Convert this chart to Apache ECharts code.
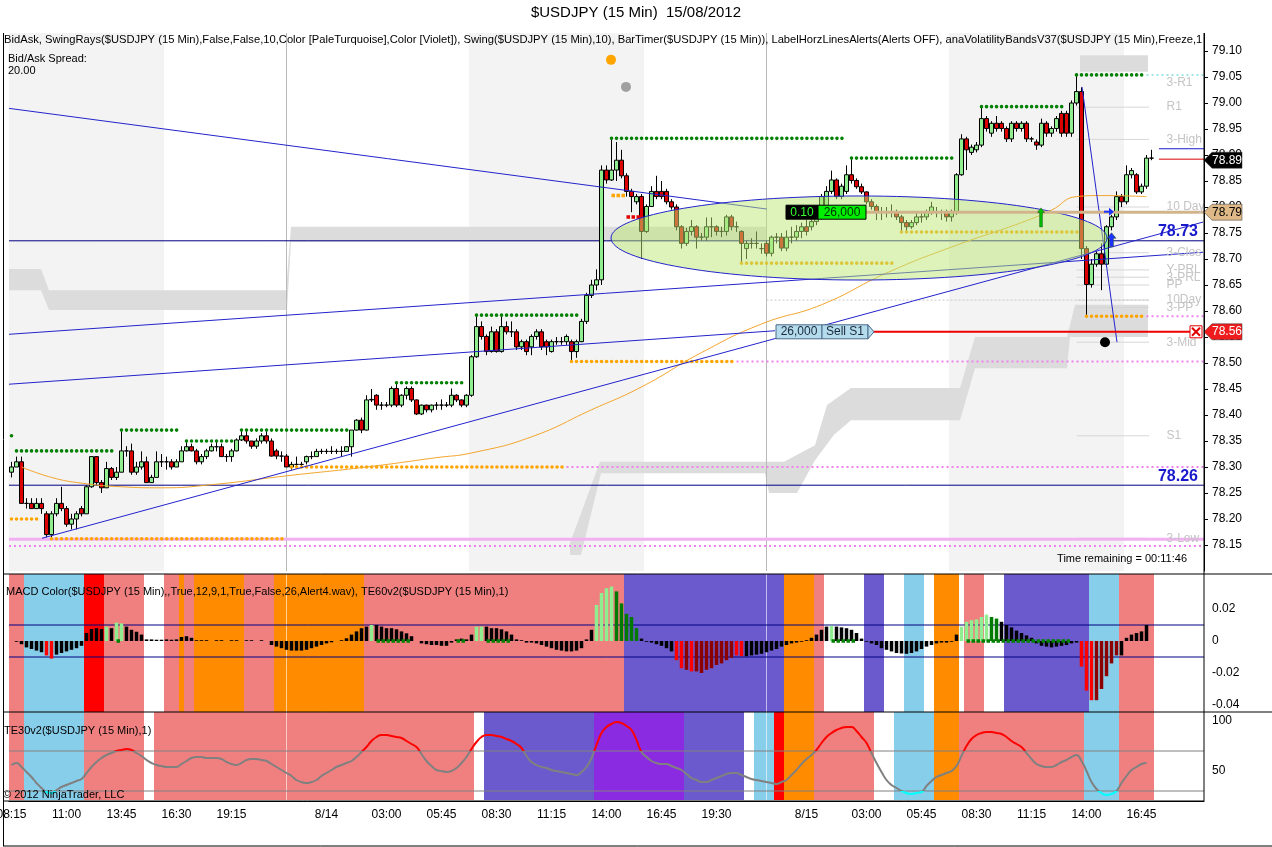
<!DOCTYPE html>
<html>
<head>
<meta charset="utf-8">
<title>$USDJPY (15 Min) 15/08/2012</title>
<script src="https://cdn.jsdelivr.net/npm/echarts@6/dist/echarts.min.js"></script>
<style>
  html, body { margin: 0; padding: 0; background: #fff; }
  #main { width: 1272px; height: 847px; }
</style>
</head>
<body>
<div id="main"></div>
<script>
var FONT = '"Liberation Sans", Arial, sans-serif';
var SLOTS = 239;   // bar slots incl. empty space right of the last bar

// x-axis labels: [bar index, text]
var timeTicks = [[0,'08:15'],[11,'11:00'],[22,'13:45'],[33,'16:30'],[44,'19:15'],[63,'8/14'],[75,'03:00'],
  [86,'05:45'],[97,'08:30'],[108,'11:15'],[119,'14:00'],[130,'16:45'],[141,'19:30'],[159,'8/15'],
  [171,'03:00'],[182,'05:45'],[193,'08:30'],[204,'11:15'],[215,'14:00'],[226,'16:45']];
var dayBreaks = [55, 151];
var macdTicks = [0.02, 0, -0.02, -0.04];
var teTicks = [100, 50];

// 15 min bars, [open, close, low, high]
var candles = [
 [78.29,78.30,78.28,78.31],[78.30,78.31,78.30,78.32],[78.31,78.23,78.23,78.32],[78.23,78.23,78.22,78.24],
 [78.23,78.22,78.22,78.24],[78.22,78.23,78.22,78.24],[78.23,78.22,78.21,78.24],[78.21,78.17,78.165,78.215],
 [78.17,78.21,78.163,78.215],[78.21,78.23,78.205,78.24],
 [78.23,78.22,78.215,78.262],[78.22,78.19,78.185,78.225],[78.19,78.20,78.18,78.21],[78.20,78.21,78.18,78.215],
 [78.22,78.21,78.205,78.225],
 [78.21,78.262,78.21,78.265],[78.262,78.32,78.26,78.32],[78.32,78.27,78.265,78.32],[78.27,78.26,78.25,78.275],
 [78.26,78.297,78.26,78.31],
 [78.297,78.28,78.275,78.30],[78.28,78.29,78.275,78.30],[78.29,78.331,78.29,78.371],[78.331,78.331,78.32,78.34],
 [78.331,78.29,78.285,78.345],[78.29,78.30,78.285,78.31],[78.30,78.31,78.295,78.33],[78.31,78.27,78.27,78.32],
 [78.27,78.28,78.27,78.285],[78.28,78.31,78.28,78.33],
 [78.31,78.31,78.30,78.325],[78.31,78.31,78.295,78.32],[78.31,78.30,78.295,78.315],[78.30,78.31,78.30,78.315],
 [78.31,78.331,78.31,78.34],[78.331,78.339,78.33,78.35],[78.339,78.331,78.33,78.345],[78.331,78.31,78.305,78.335],
 [78.31,78.32,78.305,78.325],[78.32,78.331,78.315,78.335],
 [78.331,78.339,78.33,78.345],[78.339,78.339,78.33,78.35],[78.339,78.32,78.32,78.345],[78.32,78.32,78.31,78.325],
 [78.32,78.331,78.31,78.335],[78.331,78.352,78.33,78.355],[78.352,78.36,78.35,78.371],[78.36,78.35,78.345,78.37],
 [78.35,78.34,78.335,78.35],[78.34,78.35,78.335,78.355],
 [78.35,78.36,78.345,78.365],[78.36,78.35,78.345,78.371],[78.35,78.321,78.32,78.355],[78.331,78.321,78.315,78.335],
 [78.321,78.321,78.31,78.33],[78.321,78.30,78.30,78.325],[78.30,78.305,78.295,78.31],[78.305,78.305,78.30,78.32],
 [78.305,78.305,78.30,78.31],[78.31,78.32,78.305,78.322],
 [78.32,78.32,78.315,78.33],[78.32,78.33,78.32,78.335],[78.33,78.33,78.325,78.335],[78.33,78.33,78.325,78.335],
 [78.33,78.33,78.325,78.34],[78.33,78.33,78.325,78.335],[78.33,78.33,78.32,78.34],[78.33,78.339,78.33,78.34],
 [78.339,78.371,78.32,78.371],[78.371,78.39,78.37,78.392],
 [78.39,78.371,78.365,78.395],[78.371,78.429,78.37,78.438],[78.429,78.43,78.425,78.45],[78.438,78.419,78.41,78.44],
 [78.419,78.419,78.41,78.425],[78.419,78.419,78.415,78.425],[78.419,78.451,78.415,78.455],[78.451,78.419,78.415,78.462],
 [78.419,78.438,78.415,78.44],[78.438,78.451,78.43,78.455],
 [78.451,78.429,78.425,78.455],[78.429,78.402,78.40,78.43],[78.402,78.419,78.40,78.42],[78.419,78.41,78.405,78.42],
 [78.41,78.419,78.405,78.42],[78.419,78.419,78.41,78.425],[78.419,78.419,78.41,78.43],[78.419,78.419,78.415,78.425],
 [78.419,78.438,78.415,78.451],[78.438,78.429,78.425,78.44],
 [78.429,78.419,78.415,78.43],[78.419,78.438,78.415,78.44],[78.438,78.512,78.435,78.515],[78.512,78.57,78.51,78.592],
 [78.57,78.551,78.545,78.58],[78.551,78.522,78.515,78.555],[78.522,78.56,78.52,78.57],[78.56,78.522,78.52,78.565],
 [78.522,78.57,78.52,78.592],[78.57,78.56,78.555,78.58],
 [78.56,78.56,78.55,78.58],[78.56,78.531,78.525,78.565],[78.531,78.541,78.525,78.545],[78.541,78.522,78.515,78.545],
 [78.531,78.551,78.515,78.555],[78.551,78.56,78.545,78.565],[78.56,78.531,78.525,78.565],[78.541,78.531,78.515,78.545],
 [78.522,78.541,78.52,78.545],[78.541,78.541,78.535,78.55],
 [78.541,78.541,78.535,78.55],[78.541,78.551,78.535,78.555],[78.541,78.522,78.503,78.545],[78.522,78.541,78.51,78.545],
 [78.541,78.58,78.54,78.585],[78.58,78.63,78.575,78.635],[78.63,78.65,78.625,78.66],[78.65,78.66,78.64,78.68],
 [78.66,78.871,78.65,78.88],[78.871,78.852,78.845,78.88],
 [78.852,78.871,78.85,78.932],[78.871,78.89,78.85,78.925],[78.89,78.86,78.855,78.91],[78.86,78.83,78.82,78.865],
 [78.83,78.82,78.79,78.835],[78.81,78.82,78.805,78.825],[78.82,78.753,78.70,78.825],[78.753,78.801,78.75,78.805],
 [78.801,78.83,78.80,78.84],[78.83,78.82,78.815,78.86],
 [78.83,78.82,78.815,78.85],[78.83,78.81,78.805,78.835],[78.81,78.80,78.795,78.815],[78.80,78.762,78.755,78.805],
 [78.762,78.73,78.72,78.765],[78.73,78.753,78.725,78.76],[78.753,78.762,78.745,78.775],[78.762,78.742,78.72,78.765],
 [78.742,78.742,78.735,78.75],[78.742,78.762,78.735,78.78],
 [78.762,78.762,78.742,78.78],[78.762,78.753,78.745,78.765],[78.753,78.753,78.742,78.762],[78.753,78.781,78.745,78.785],
 [78.781,78.762,78.755,78.785],[78.762,78.762,78.752,78.772],[78.753,78.73,78.692,78.755],[78.72,78.73,78.70,78.735],
 [78.73,78.73,78.72,78.74],[78.73,78.73,78.72,78.753],
 [78.72,78.72,78.71,78.73],[78.73,78.711,78.705,78.735],[78.711,78.742,78.705,78.745],[78.742,78.742,78.73,78.75],
 [78.742,78.721,78.715,78.75],[78.721,78.742,78.715,78.755],[78.742,78.742,78.73,78.762],[78.742,78.753,78.735,78.765],
 [78.753,78.762,78.74,78.77],[78.762,78.753,78.745,78.775],
 [78.762,78.772,78.755,78.78],[78.772,78.781,78.765,78.79],[78.781,78.82,78.775,78.825],[78.80,78.83,78.80,78.84],
 [78.83,78.852,78.825,78.87],[78.852,78.82,78.815,78.855],[78.82,78.84,78.815,78.845],[78.83,78.862,78.825,78.88],
 [78.862,78.851,78.845,78.894],[78.851,78.839,78.835,78.855],
 [78.839,78.829,78.825,78.845],[78.829,78.81,78.805,78.83],[78.81,78.801,78.795,78.815],[78.801,78.791,78.775,78.805],
 [78.791,78.791,78.775,78.80],[78.791,78.791,78.78,78.80],[78.791,78.791,78.78,78.805],[78.791,78.781,78.775,78.795],
 [78.781,78.77,78.752,78.785],[78.77,78.762,78.752,78.775],
 [78.762,78.77,78.758,78.775],[78.77,78.781,78.765,78.79],[78.781,78.781,78.77,78.79],[78.781,78.791,78.775,78.795],
 [78.791,78.80,78.785,78.81],[78.791,78.791,78.78,78.80],[78.791,78.791,78.775,78.795],[78.791,78.781,78.772,78.795],
 [78.781,78.791,78.772,78.795],[78.791,78.862,78.785,78.865],
 [78.862,78.931,78.86,78.94],[78.931,78.91,78.871,78.935],[78.905,78.915,78.90,78.92],[78.91,78.919,78.905,78.925],
 [78.919,78.97,78.915,78.993],[78.97,78.951,78.945,78.975],[78.942,78.961,78.935,78.965],[78.961,78.951,78.945,78.975],
 [78.961,78.951,78.945,78.965],[78.951,78.931,78.925,78.955],
 [78.931,78.961,78.925,78.965],[78.961,78.951,78.945,78.965],[78.951,78.961,78.945,78.965],[78.961,78.931,78.925,78.965],
 [78.931,78.931,78.925,78.935],[78.925,78.919,78.91,78.93],[78.919,78.961,78.915,78.97],[78.961,78.942,78.935,78.965],
 [78.942,78.951,78.935,78.955],[78.951,78.97,78.945,78.975],
 [78.98,78.942,78.935,78.985],[78.98,78.942,78.935,78.985],[78.942,79.00,78.935,79.005],[79.00,79.022,78.995,79.054],
 [79.022,78.72,78.70,79.03],[78.72,78.651,78.59,78.725],[78.651,78.69,78.645,78.70],[78.69,78.71,78.685,78.715],
 [78.71,78.69,78.64,78.73],[78.69,78.762,78.685,78.765],
 [78.762,78.781,78.755,78.785],[78.781,78.82,78.775,78.83],[78.82,78.81,78.80,78.825],[78.81,78.862,78.805,78.88],
 [78.862,78.87,78.855,78.875],[78.862,78.829,78.825,78.865],[78.829,78.84,78.825,78.845],[78.84,78.894,78.835,78.90],
 [78.894,78.894,78.89,78.91]
];

// moving average, read at a few bars (line joins them)
var maPoints = [[2,78.30],[8,78.28],[14,78.269],[22,78.262],[30,78.26],[40,78.266],[55,78.283],[71,78.30],
  [85,78.318],[92,78.327],[104,78.358],[116,78.41],[126,78.454],[138,78.52],[150,78.575],[162,78.612],
  [175,78.673],[188,78.723],[202,78.77],[208,78.794],[213,78.82],[218,78.822],[227,78.82]];

// swing dots: [first bar, last bar, price]
var swingHighs = [[0,0,78.36],[1,21,78.331],[22,34,78.371],[35,45,78.35],[46,68,78.371],[77,91,78.462],
  [93,114,78.592],[120,167,78.932],[168,189,78.894],[194,211,78.993],[213,227,79.054]];
var swingLows = [[0,6,78.20],[8,55,78.162],[56,111,78.30],[112,145,78.503],[146,177,78.692],[178,214,78.752],[215,227,78.59]];
var orangeMarks = [[120,123,78.822]];
var redMarks = [[123,126,78.781]];
var violetRays = [[111,238.5,78.30],[145,238.5,78.503],[227,238.5,78.59],[-0.5,238.5,78.148]];
var violetSolid = [[-0.5,238.5,78.161]];
var turquoiseRays = [[227,238.5,79.054]];

// drawn objects in [bar, price]
var trendLines = [
  [-2.3,78.992,151.1,78.796],
  [-2.3,78.554,238.3,78.713],
  [-2.3,78.458,152.7,78.562],
  [6.1,78.163,238.3,78.771],
  [214.1,79.031,221.1,78.54]
];
var levelLines = [[78.735,'78.73'],[78.265,'78.26']];
var tanLine = [[170.9,238.5,78.79]];
var sellLine = [[171.3,235.7,78.56]];
var bidLine = [[229.5,238.5,78.912]];
var askLine = [[229.5,238.5,78.892]];
var ellipseZone = {bar: 169.5, price: 78.7404, barRadius: 49.6, priceRadius: 0.0808};

var pivots = [['3-R1',79.04],['R1',78.992],['3-High',78.93],['10 Day',78.80],['3-Clos',78.712],['Y-PRL',78.679],
  ['3-PRL',78.665],['PP',78.65],['10Day',78.621],['3-PP',78.607],['3-Mid',78.54],['S1',78.36],['3-Low',78.163]];
var pivotLongLines = [[151,227.5,78.621]];

// volatility band outlines [bar, price]
var bands = [
  [[-0.5,78.681],[5.9,78.681],[7.5,78.64],[54.9,78.64],[55.9,78.762],[151.1,78.762],[151.1,78.733],[55.9,78.733],
   [55.1,78.602],[7.5,78.602],[5.9,78.64],[-0.5,78.64]],
  [[213.7,79.092],[227.3,79.092],[227.3,79.06],[213.7,79.06]],
  [[111.7,78.154],[117.7,78.31],[154.5,78.31],[160.7,78.342],[163.1,78.419],[167.9,78.452],[189.7,78.452],
   [192.7,78.55],[211.1,78.55],[212.7,78.612],[227.3,78.612],[227.3,78.55],[211.7,78.55],[211.1,78.49],
   [192.7,78.49],[189.7,78.39],[167.9,78.39],[164.5,78.362],[160.7,78.313],[157.1,78.25],[151.5,78.25],
   [150.7,78.288],[117.9,78.288],[113.9,78.131],[111.7,78.131]]
];

var dots = [[119.9,79.083,'#ffa500'],[122.9,79.031,'#a0a0a0'],[218.7,78.54,'#000000']];
var upArrows = [[205.9,78.78,'#00c000',5,19],[220,78.737,'#1e32ff',7,14]];
var sideArrows = [[219.5,78.791]];
var tradeTags = [
  {at: [154.9,78.79], parts: [['0.10','#000000','#33ff33',32],['26,000','#00ee00','#003300',48]], tip: false, edge: '#000000'},
  {at: [152.9,78.56], parts: [['26,000','#b4dcec','#1a2a3a',46],['Sell S1','#b4dcec','#1a2a3a',46]], tip: true, edge: '#4a6a8a'}
];
var axisTags = [[78.89,'#000000','#ffffff'],[78.79,'#deb887','#000000'],[78.56,'#ee1c1c','#ffffff']];
var closeMarks = [[236.9,78.56]];

// MACD histogram
var macdHist = [
 0,-0.0005,-0.002,-0.004,-0.005,-0.006,-0.007,-0.009,-0.011,-0.0085,
 -0.0075,-0.0065,-0.0055,-0.0045,-0.003,0.005,0.0075,0.008,0.0075,0.009,
 0.008,0.0115,0.011,0.009,0.007,0.0058,0.004,0.001,0.001,0.0008,
 0.0008,0.001,0.0008,0.001,0.0025,0.003,0.002,0.0005,0.0005,0.0005,
 0,0.0005,0.0005,0,0.0005,0.0005,0,0.0005,0.0005,0,
 0.0005,0,-0.0025,-0.0035,-0.0045,-0.0055,-0.006,-0.006,-0.006,-0.0055,
 -0.0045,-0.0035,-0.0025,-0.0015,-0.0008,0,0.0005,0.0017,0.004,0.006,
 0.008,0.009,0.010,0.010,0.009,0.008,0.008,0.0073,0.006,0.0048,
 0.003,0,-0.0015,-0.002,-0.0025,-0.0025,-0.003,-0.003,-0.001,0.001,
 0.0015,0.001,0.004,0.009,0.009,0.009,0.008,0.008,0.0073,0.006,
 0.004,0.001,0.0005,-0.001,-0.001,-0.0015,-0.0025,-0.0035,-0.0045,-0.0055,
 -0.006,-0.0065,-0.0065,-0.006,-0.0045,0.001,0.007,0.0225,0.030,0.033,
 0.034,0.031,0.0235,0.017,0.015,0.008,0.0015,-0.0005,-0.001,-0.002,
 -0.003,-0.0045,-0.0065,-0.012,-0.017,-0.018,-0.019,-0.019,-0.020,-0.018,
 -0.017,-0.015,-0.014,-0.012,-0.0105,-0.009,-0.0095,-0.0095,-0.009,-0.0085,
 -0.008,-0.007,-0.006,-0.005,-0.0035,-0.0025,-0.0015,-0.001,-0.0005,0.0005,
 0.002,0.004,0.007,0.009,0.0095,0.009,0.0085,0.008,0.007,0.005,
 0.0015,-0.0005,-0.0015,-0.0025,-0.0045,-0.0055,-0.0065,-0.0075,-0.0078,-0.008,
 -0.0075,-0.0065,-0.005,-0.0035,-0.0025,-0.0015,-0.001,-0.001,-0.0005,0.004,
 0.009,0.012,0.013,0.0135,0.015,0.0165,0.015,0.014,0.012,0.010,
 0.0085,0.0065,0.005,0.0035,0.002,-0.0015,-0.003,-0.0035,-0.004,-0.0035,
 -0.003,-0.0025,-0.0015,-0.001,-0.016,-0.031,-0.037,-0.037,-0.030,-0.022,
 -0.014,-0.009,-0.009,0.002,0.004,0.005,0.006,0.010,null
];
// colour runs for the histogram, other bars black
var macdColorRuns = [[7,8,'r'],[19,19,'g'],[21,22,'g'],[72,72,'g'],[93,94,'g'],[117,120,'g'],[121,125,'d'],
  [133,134,'r'],[135,135,'m'],[136,136,'r'],[137,144,'m'],[145,146,'r'],[164,164,'g'],[190,195,'g'],
  [196,197,'d'],[214,216,'r'],[217,221,'m']];
var macdZeroDots = [[21,22,0],[73,80,0],[89,91,0],[95,100,0],[164,169,0],[191,212,0]];
var macdBands = [[-0.5,238.5,0.01],[-0.5,238.5,-0.01]];

// TE30 oscillator
var teValues = [
 56,58,54,49,44,38,33,29,28,31, 34,36,38,40,42,48,54,59,63,66,
 68,70,71,72,71,68,65,61,58,56, 55,54,54,54,57,60,63,64,64,63,
 63,63,62,59,57,56,58,61,62,62, 61,60,57,54,51,48,45,41,39,38,
 39,41,45,48,51,54,56,58,60,64, 69,74,80,84,86,86,85,84,83,80,
 77,74,67,60,55,51,50,49,50,53, 58,64,72,79,84,86,86,85,84,82,
 80,77,73,65,59,56,54,53,51,50, 49,48,47,46,49,54,63,76,88,94,
 97,99,98,95,91,81,69,64,60,58, 57,57,55,53,51,47,43,41,39,39,
 41,43,45,47,48,48,46,44,42,41, 40,39,38,37,39,41,46,51,57,62,
 66,71,78,84,88,91,93,94,94,90, 84,78,68,58,49,41,36,33,30,28,
 27,28,29,35,40,44,46,48,50,55, 65,75,82,86,88,89,89,88,87,84,
 80,77,74,68,62,57,55,54,54,56, 59,61,64,66,60,50,39,32,28,26,
 27,30,38,45,51,54,57,58
];
var teBands = [[-0.5,238.5,70],[-0.5,238.5,30]];

// background colour runs: [first bar, bar after last, colour]
var sessionRuns = [[-4,31,'G'],[92,127,'G'],[188,223,'G']];
var macdBgRuns = [[0,3,'S'],[3,15,'B'],[15,19,'R'],[19,27,'S'],[31,34,'S'],[34,35,'O'],[35,37,'S'],[37,47,'O'],
  [47,53,'S'],[53,71,'O'],[71,123,'S'],[123,155,'V'],[155,161,'O'],[161,163,'S'],[171,175,'V'],[179,183,'B'],
  [185,190,'O'],[191,195,'S'],[199,216,'V'],[216,222,'B'],[222,229,'S']];
var teBgRuns = [[0,3,'S'],[3,15,'B'],[15,27,'S'],[29,93,'S'],[95,117,'V'],[117,135,'P'],[135,147,'V'],[149,153,'B'],
  [153,155,'R'],[155,161,'O'],[161,173,'S'],[177,185,'B'],[185,190,'O'],[190,215,'S'],[215,222,'B'],[222,229,'S']];

var palette = {S:'#f08080', B:'#87ceeb', R:'#ff0000', O:'#ff8c00', V:'#6a5acd', P:'#8a2be2', G:'#f3f3f3'};
var histPalette = {k:'#000000', g:'#90ee90', d:'#007a00', r:'#ff0000', m:'#8b0000'};

// panel limits in data units
var PRICE_TOP = 79.135, PRICE_BOTTOM = 78.098;
var MACD_TOP = 0.0419, MACD_BOTTOM = -0.0444;
var TE_TOP = 109, TE_BOTTOM = 21;

// ---------------------------------------------------------------
var chart = echarts.init(document.getElementById('main'));

var cats = [];
for (var s = 0; s < SLOTS; s++) cats.push(String(s));
var labelAt = {};
timeTicks.forEach(function (t) { labelAt[t[0]] = t[1]; });
var tickAt = Object.assign({}, labelAt);
dayBreaks.forEach(function (d) { tickAt[d] = ''; });

var maData = candles.map(function () { return null; });
maPoints.forEach(function (p) { maData[p[0]] = p[1]; });

var macdCodes = macdHist.map(function () { return 'k'; });
macdColorRuns.forEach(function (r) { for (var i = r[0]; i <= r[1]; i++) macdCodes[i] = r[2]; });
var macdItems = macdHist.map(function (v, i) {
  return {value: v, itemStyle: {color: histPalette[macdCodes[i]]}};
});

function flat(list) {
  return list.map(function (h) { return [h[0], h[2], h[1], h[2]]; });
}

function segSeries(data, xi, yi, style, z) {
  return {
    type: 'custom', xAxisIndex: xi, yAxisIndex: yi, z: z, silent: true, clip: true,
    data: data,
    renderItem: function (params, api) {
      var a = api.coord([api.value(0), api.value(1)]);
      var b = api.coord([api.value(2), api.value(3)]);
      // a single-bar segment still needs a visible dot
      if (Math.abs(b[0] - a[0]) < 0.5 && Math.abs(b[1] - a[1]) < 0.5) b = [a[0] + 0.5, a[1]];
      return {type: 'line', shape: {x1: a[0], y1: a[1], x2: b[0], y2: b[1]}, style: Object.assign({}, style)};
    }
  };
}

function runSeries(runs, xi, yi, top, bottom, z) {
  return {
    type: 'custom', xAxisIndex: xi, yAxisIndex: yi, z: z, silent: true, clip: true,
    data: runs.map(function (r) { return [r[0], r[1]]; }),
    renderItem: function (params, api) {
      var r = runs[params.dataIndex];
      var a = api.coord([r[0] - 0.5, top]);
      var b = api.coord([r[1] - 0.5, bottom]);
      return {type: 'rect', shape: {x: a[0], y: a[1], width: b[0] - a[0], height: b[1] - a[1]},
        style: {fill: palette[r[2]]}};
    }
  };
}

function vlineSeries(xi, yi, top, bottom, color) {
  return segSeries(dayBreaks.map(function (d) { return [d, top, d, bottom]; }), xi, yi,
    {stroke: color, lineWidth: 1}, 1);
}

var DOT = function (color) { return {stroke: color, lineWidth: 3.6, lineDash: [0.01, 5], lineCap: 'round'}; };
var SQUARE = function (color) { return {stroke: color, lineWidth: 3.5, lineDash: [3.5, 1.5], lineCap: 'butt'}; };

var series = [];

// price panel background
series.push(runSeries(sessionRuns, 1, 0, PRICE_TOP, PRICE_BOTTOM, 0));
series.push({
  type: 'custom', xAxisIndex: 1, yAxisIndex: 0, z: 1, silent: true, clip: true,
  data: bands.map(function (b) { return b[0]; }),
  renderItem: function (params, api) {
    var pts = bands[params.dataIndex].map(function (q) { return api.coord(q); });
    return {type: 'polygon', shape: {points: pts}, style: {fill: '#dcdcdc'}};
  }
});
series.push(vlineSeries(1, 0, PRICE_TOP, PRICE_BOTTOM, '#b8b8b8'));
series.push(segSeries(pivots.slice(1).map(function (p) { return [213, p[1], 227.5, p[1]]; }), 1, 0,
  {stroke: '#d6d6d6', lineWidth: 1}, 1));
series.push(segSeries(flat(pivotLongLines), 1, 0, {stroke: '#c8c8c8', lineWidth: 1, lineDash: [2, 2]}, 1));
series.push(segSeries(flat(violetSolid), 1, 0, {stroke: '#f2b0f2', lineWidth: 3}, 1));
series.push(segSeries(flat(violetRays), 1, 0, {stroke: '#ee82ee', lineWidth: 2, lineDash: [2, 3]}, 1));
series.push(segSeries(flat(turquoiseRays), 1, 0, {stroke: '#9fe6e6', lineWidth: 2, lineDash: [2, 3]}, 1));
series.push(segSeries(levelLines.map(function (l) { return [-0.5, l[0], 238.5, l[0]]; }), 1, 0,
  {stroke: '#000080', lineWidth: 1}, 2));

// candles
series.push({
  type: 'candlestick', xAxisIndex: 0, yAxisIndex: 0, z: 3, data: candles, barWidth: 4,
  itemStyle: {color: '#90ee90', color0: '#dd0000', borderColor: '#000', borderColor0: '#000', borderWidth: 1}
});
series.push({
  type: 'line', xAxisIndex: 0, yAxisIndex: 0, z: 4, data: maData, connectNulls: true, smooth: true,
  symbol: 'none', lineStyle: {color: '#f2a52c', width: 1}, silent: true
});
series.push(segSeries(flat(swingHighs), 1, 0, DOT('#008000'), 4));
series.push(segSeries(flat(swingLows), 1, 0, DOT('#ffa500'), 4));
series.push(segSeries(flat(orangeMarks), 1, 0, SQUARE('#ffa500'), 4));
series.push(segSeries(flat(redMarks), 1, 0, SQUARE('#e00000'), 4));
series.push(segSeries(trendLines, 1, 0, {stroke: '#2323cc', lineWidth: 1}, 5));

// ellipse zone (translucent, over the bars)
series.push({
  type: 'custom', xAxisIndex: 1, yAxisIndex: 0, z: 6, silent: true, clip: true,
  data: [[ellipseZone.bar, ellipseZone.price]],
  renderItem: function (params, api) {
    var c = api.coord([api.value(0), api.value(1)]);
    var sz = api.size([ellipseZone.barRadius, ellipseZone.priceRadius]);
    return {type: 'ellipse', shape: {cx: c[0], cy: c[1], rx: sz[0], ry: sz[1]},
      style: {fill: 'rgba(188,232,118,0.5)', stroke: '#2323cc', lineWidth: 1}};
  }
});

series.push(segSeries(flat(tanLine), 1, 0, {stroke: '#d2b48c', lineWidth: 3}, 7));
series.push(segSeries(flat(sellLine), 1, 0, {stroke: '#ee0000', lineWidth: 2}, 7));
series.push(segSeries(flat(bidLine), 1, 0, {stroke: '#1a1acc', lineWidth: 1}, 7));
series.push(segSeries(flat(askLine), 1, 0, {stroke: '#dd0000', lineWidth: 1}, 7));

// markers
series.push({
  type: 'custom', xAxisIndex: 1, yAxisIndex: 0, z: 8, silent: true, clip: true,
  data: dots.map(function (d) { return [d[0], d[1]]; }),
  renderItem: function (params, api) {
    var c = api.coord([api.value(0), api.value(1)]);
    return {type: 'circle', shape: {cx: c[0], cy: c[1], r: 5}, style: {fill: dots[params.dataIndex][2]}};
  }
});
series.push({
  type: 'custom', xAxisIndex: 1, yAxisIndex: 0, z: 8, silent: true, clip: true,
  data: upArrows.map(function (d) { return [d[0], d[1]]; }),
  renderItem: function (params, api) {
    var a = upArrows[params.dataIndex];
    var c = api.coord([api.value(0), api.value(1)]);
    var w = a[3] / 2, h = a[4] / 2, hw = w * 0.55;
    var pts = [[c[0], c[1] - h], [c[0] + w + 1, c[1] - h + w + 2], [c[0] + hw, c[1] - h + w + 2],
      [c[0] + hw, c[1] + h], [c[0] - hw, c[1] + h], [c[0] - hw, c[1] - h + w + 2], [c[0] - w - 1, c[1] - h + w + 2]];
    return {type: 'polygon', shape: {points: pts}, style: {fill: a[2], stroke: '#1b4d1b', lineWidth: 0.5}};
  }
});
series.push({
  type: 'custom', xAxisIndex: 1, yAxisIndex: 0, z: 8, silent: true, clip: true,
  data: sideArrows,
  renderItem: function (params, api) {
    var c = api.coord([api.value(0), api.value(1)]);
    return {type: 'group', children: [
      {type: 'line', shape: {x1: c[0] - 5, y1: c[1], x2: c[0] + 3, y2: c[1]}, style: {stroke: '#1e32ff', lineWidth: 2}},
      {type: 'polygon', shape: {points: [[c[0] + 5, c[1]], [c[0], c[1] - 4], [c[0], c[1] + 4]]}, style: {fill: '#1e32ff'}}
    ]};
  }
});

// text labels on the price panel
series.push({
  type: 'custom', xAxisIndex: 1, yAxisIndex: 0, z: 8, silent: true, clip: false,
  data: pivots.map(function (p) { return [231, p[1]]; }),
  renderItem: function (params, api) {
    var c = api.coord([api.value(0), api.value(1)]);
    return {type: 'text', x: c[0], y: c[1], style: {text: pivots[params.dataIndex][0], fill: '#c4c4c4',
      font: '12px ' + FONT, align: 'left', verticalAlign: 'middle'}};
  }
});
series.push({
  type: 'custom', xAxisIndex: 1, yAxisIndex: 0, z: 9, silent: true, clip: false,
  data: levelLines.map(function (l) { return [237.3, l[0]]; }),
  renderItem: function (params, api) {
    var c = api.coord([api.value(0), api.value(1)]);
    return {type: 'text', x: c[0], y: c[1] - 1, style: {text: levelLines[params.dataIndex][1], fill: '#1a1acd',
      font: 'bold 16px ' + FONT, align: 'right', verticalAlign: 'bottom'}};
  }
});
series.push({
  type: 'custom', xAxisIndex: 1, yAxisIndex: 0, z: 9, silent: true, clip: false,
  data: tradeTags.map(function (t) { return t.at; }),
  renderItem: function (params, api) {
    var t = tradeTags[params.dataIndex];
    var c = api.coord([api.value(0), api.value(1)]);
    var x = c[0], y = c[1], kids = [];
    t.parts.forEach(function (p) {
      kids.push({type: 'rect', shape: {x: x, y: y - 7, width: p[3], height: 14},
        style: {fill: p[1], stroke: t.edge, lineWidth: 1}});
      kids.push({type: 'text', x: x + p[3] / 2, y: y, style: {text: p[0], fill: p[2], font: '12px ' + FONT,
        align: 'center', verticalAlign: 'middle'}});
      x += p[3];
    });
    if (t.tip) {
      kids.push({type: 'polygon', shape: {points: [[x, y - 7], [x + 6, y], [x, y + 7]]},
        style: {fill: t.parts[0][1], stroke: t.edge, lineWidth: 1}});
    }
    return {type: 'group', children: kids};
  }
});
series.push({
  type: 'custom', xAxisIndex: 1, yAxisIndex: 0, z: 9, silent: true, clip: false,
  data: axisTags.map(function (t) { return [238.5, t[0]]; }),
  renderItem: function (params, api) {
    var t = axisTags[params.dataIndex];
    var c = api.coord([api.value(0), api.value(1)]);
    var x = c[0], y = c[1];
    return {type: 'group', children: [
      {type: 'polygon', shape: {points: [[x, y], [x + 8, y - 8], [x + 38, y - 8], [x + 38, y + 8], [x + 8, y + 8]]},
        style: {fill: t[1], stroke: '#333', lineWidth: 0.5}},
      {type: 'text', x: x + 23, y: y, style: {text: t[0].toFixed(2), fill: t[2], font: '12px ' + FONT,
        align: 'center', verticalAlign: 'middle'}}
    ]};
  }
});
series.push({
  type: 'custom', xAxisIndex: 1, yAxisIndex: 0, z: 9, silent: true, clip: false,
  data: closeMarks,
  renderItem: function (params, api) {
    var c = api.coord([api.value(0), api.value(1)]);
    var x = c[0], y = c[1];
    return {type: 'group', children: [
      {type: 'rect', shape: {x: x - 6, y: y - 6, width: 12, height: 12}, style: {fill: '#fff', stroke: '#e00000', lineWidth: 1}},
      {type: 'line', shape: {x1: x - 4, y1: y - 4, x2: x + 4, y2: y + 4}, style: {stroke: '#e00000', lineWidth: 2}},
      {type: 'line', shape: {x1: x + 4, y1: y - 4, x2: x - 4, y2: y + 4}, style: {stroke: '#e00000', lineWidth: 2}}
    ]};
  }
});

// MACD panel
series.push(runSeries(macdBgRuns, 3, 1, MACD_TOP, MACD_BOTTOM, 0));
series.push(vlineSeries(3, 1, MACD_TOP, MACD_BOTTOM, 'rgba(255,255,255,0.6)'));
series.push(segSeries(flat(macdBands), 3, 1, {stroke: '#000080', lineWidth: 1}, 2));
series.push({type: 'bar', xAxisIndex: 2, yAxisIndex: 1, z: 3, data: macdItems, barWidth: 3.5, silent: true});
series.push(segSeries(flat(macdZeroDots), 3, 1, SQUARE('#008000'), 4));

// TE30 panel
series.push(runSeries(teBgRuns, 5, 2, TE_TOP, TE_BOTTOM, 0));
series.push(vlineSeries(5, 2, TE_TOP, TE_BOTTOM, 'rgba(255,255,255,0.6)'));
series.push(segSeries(flat(teBands), 5, 2, {stroke: '#808080', lineWidth: 1}, 2));
var teIndex = series.length;
series.push({type: 'line', xAxisIndex: 4, yAxisIndex: 2, z: 4, data: teValues, smooth: true, symbol: 'none',
  lineStyle: {width: 2}, silent: true});

function hiddenValueX(grid) {
  return {type: 'value', gridIndex: grid, min: -0.5, max: SLOTS - 0.5, show: false};
}
function hiddenCatX(grid) {
  return {type: 'category', gridIndex: grid, data: cats, show: false, boundaryGap: true};
}

var option = {
  animation: false,
  backgroundColor: '#ffffff',
  textStyle: {fontFamily: FONT},
  grid: [
    {left: 9, width: 1195, top: 25, height: 546, containLabel: false, outerBoundsMode: 'none'},
    {left: 9, width: 1195, top: 569, height: 144, containLabel: false, outerBoundsMode: 'none'},
    {left: 9, width: 1195, top: 711, height: 90, containLabel: false, outerBoundsMode: 'none'}
  ],
  xAxis: [
    hiddenCatX(0), hiddenValueX(0),
    hiddenCatX(1), hiddenValueX(1),
    {
      type: 'category', gridIndex: 2, data: cats, boundaryGap: true,
      axisLine: {onZero: false, lineStyle: {color: '#000'}},
      axisTick: {alignWithLabel: true, length: 6, lineStyle: {color: '#000'},
        interval: function (i) { return tickAt[i] !== undefined; }},
      axisLabel: {color: '#000', fontSize: 12, margin: 8, fontFamily: FONT,
        interval: function (i) { return labelAt[i] !== undefined; },
        formatter: function (v, i) { return labelAt[i] || ''; }}
    },
    hiddenValueX(2)
  ],
  yAxis: [
    {
      type: 'value', gridIndex: 0, position: 'right', min: 78.10, max: 79.15, interval: 0.05,
      axisLine: {show: true, onZero: false, lineStyle: {color: '#000'}},
      axisTick: {show: true, length: 4, lineStyle: {color: '#000'}},
      splitLine: {show: false},
      axisLabel: {color: '#000', fontSize: 12, margin: 8, fontFamily: FONT, showMinLabel: false, showMaxLabel: false,
        formatter: function (v) { return v.toFixed(2); }}
    },
    {
      type: 'value', gridIndex: 1, position: 'right', min: -0.045, max: 0.045, interval: 0.005,
      axisLine: {show: false, onZero: false}, axisTick: {show: false}, splitLine: {show: false},
      axisLabel: {color: '#000', fontSize: 12, margin: 8, fontFamily: FONT, showMinLabel: false, showMaxLabel: false,
        formatter: function (v) {
          var hit = macdTicks.filter(function (t) { return Math.abs(t - v) < 1e-6; });
          return hit.length ? String(hit[0]) : '';
        }}
    },
    {
      type: 'value', gridIndex: 2, position: 'right', min: 20, max: 110, interval: 10,
      axisLine: {show: false, onZero: false}, axisTick: {show: false}, splitLine: {show: false},
      axisLabel: {color: '#000', fontSize: 12, margin: 8, fontFamily: FONT, showMinLabel: false, showMaxLabel: false,
        formatter: function (v) { return teTicks.indexOf(Math.round(v)) >= 0 ? String(Math.round(v)) : ''; }}
    }
  ],
  visualMap: [{
    type: 'piecewise', show: false, seriesIndex: teIndex,
    pieces: [{lt: 30, color: '#00ffff'}, {gte: 30, lte: 70, color: '#808080'}, {gt: 70, color: '#ff0000'}]
  }],
  graphic: [
    {type: 'rect', z: 50, shape: {x: 0, y: 0, width: 1272, height: 33}, style: {fill: '#fff'}},
    {type: 'text', z: 60, x: 636, y: 13, style: {text: '$USDJPY (15 Min)  15/08/2012', fill: '#000',
      font: '15px ' + FONT, align: 'center', verticalAlign: 'middle'}},
    {type: 'text', z: 60, x: 4, y: 40, style: {text: 'BidAsk, SwingRays($USDJPY (15 Min),False,False,10,Color [PaleTurquoise],Color [Violet]), Swing($USDJPY (15 Min),10), BarTimer($USDJPY (15 Min)), LabelHorzLinesAlerts(Alerts OFF), anaVolatilityBandsV37($USDJPY (15 Min),Freeze,1,True)',
      fill: '#000', font: '11.2px ' + FONT, verticalAlign: 'middle', width: 1200, overflow: 'truncate', ellipsis: ''}},
    {type: 'text', z: 60, x: 8, y: 59, style: {text: 'Bid/Ask Spread:', fill: '#000', font: '11px ' + FONT, verticalAlign: 'middle'}},
    {type: 'text', z: 60, x: 8, y: 71, style: {text: '20.00', fill: '#000', font: '11px ' + FONT, verticalAlign: 'middle'}},
    {type: 'text', z: 60, x: 1187, y: 559, style: {text: 'Time remaining = 00:11:46', fill: '#000', font: '11px ' + FONT,
      align: 'right', verticalAlign: 'middle'}},
    {type: 'text', z: 60, x: 6, y: 592, style: {text: 'MACD Color($USDJPY (15 Min),,True,12,9,1,True,False,26,Alert4.wav), TE60v2($USDJPY (15 Min),1)',
      fill: '#000', font: '11px ' + FONT, verticalAlign: 'middle'}},
    {type: 'text', z: 60, x: 4, y: 731, style: {text: 'TE30v2($USDJPY (15 Min),1)', fill: '#000', font: '11px ' + FONT, verticalAlign: 'middle'}},
    {type: 'text', z: 60, x: 3, y: 795, style: {text: '\u00a9 2012 NinjaTrader, LLC', fill: '#000', font: '11px ' + FONT, verticalAlign: 'middle'}},
    // frame
    {type: 'line', z: 60, shape: {x1: 3.5, y1: 33, x2: 3.5, y2: 846}, style: {stroke: '#000', lineWidth: 1}},
    {type: 'line', z: 60, shape: {x1: 1204, y1: 33, x2: 1204, y2: 801}, style: {stroke: '#000', lineWidth: 1}},
    {type: 'line', z: 60, shape: {x1: 3, y1: 574, x2: 1272, y2: 574}, style: {stroke: '#000', lineWidth: 1}},
    {type: 'line', z: 60, shape: {x1: 3, y1: 712, x2: 1272, y2: 712}, style: {stroke: '#000', lineWidth: 1}},
    {type: 'line', z: 60, shape: {x1: 3, y1: 801, x2: 1204, y2: 801}, style: {stroke: '#000', lineWidth: 1}},
    {type: 'line', z: 60, shape: {x1: 3, y1: 846, x2: 1272, y2: 846}, style: {stroke: '#000', lineWidth: 1}}
  ],
  series: series
};

chart.setOption(option);
</script>
</body>
</html>
